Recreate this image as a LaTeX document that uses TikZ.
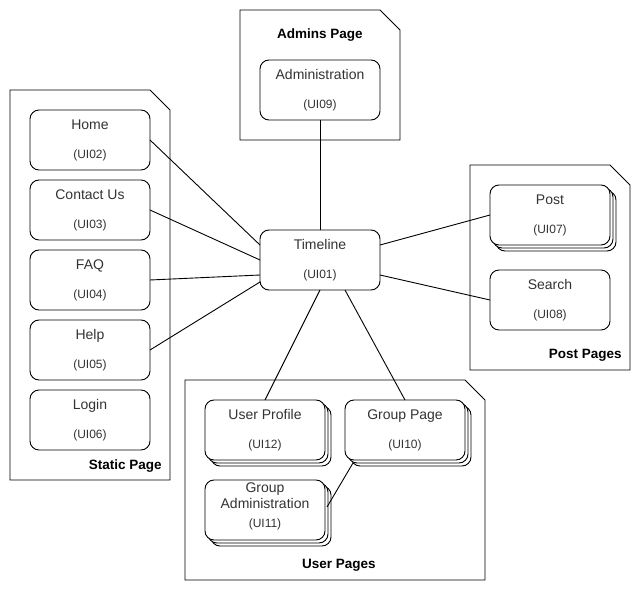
\documentclass[tikz,border=0pt]{standalone}
\usepackage{fontspec}
\setmainfont{Liberation Sans}
\usetikzlibrary{positioning,shadows}
\tikzset{>=latex}
\newcommand\uiname{\fontsize{14}{16}\selectfont}

\begin{document}
\begin{tikzpicture}[x=1pt,y=-1pt,line width=0.9pt,
	ui/.style={draw,fill=white,rounded corners=9pt,minimum width=120pt,minimum height=60pt,
		inner sep=0pt,outer sep=0pt,align=center,text=black!80,font=\fontsize{12}{14}\selectfont},
	stacked/.style={ui,double copy shadow={shadow xshift=3pt,shadow yshift=-3pt}},
	pagebox/.style={draw,line join=miter},
	ptitle/.style={font=\fontsize{13.5}{16}\selectfont\bfseries,inner sep=0pt},
	node distance=10pt]
	\useasboundingbox (0,0) rectangle (641,591);
	% page groups
	\foreach \xa/\ya/\xb/\yb in {10/90/170/480, 240/10/400/140, 470/165/630/370, 185/380/485/580}
		\draw[pagebox] (\xa,\ya) -- (\xb-20,\ya) -- (\xb,\ya+20) -- (\xb,\yb) -- (\xa,\yb) -- cycle;
	\node[ptitle,anchor=east] (statictitle) at (162,466) {Static Page};
	\node[ptitle] (admintitle) at (320,35) {Admins Page};
	\node[ptitle,anchor=east] (posttitle) at (622,355) {Post Pages};
	\node[ptitle] (usertitle) at (339,565) {User Pages};
	% static pages
	\node[ui] (home) at (90,140) {{\uiname Home}\\[15pt](UI02)};
	\node[ui,below=of home] (contact) {{\uiname Contact Us}\\[15pt](UI03)};
	\node[ui,below=of contact] (faq) {{\uiname FAQ}\\[15pt](UI04)};
	\node[ui,below=of faq] (help) {{\uiname Help}\\[15pt](UI05)};
	\node[ui,below=of help] (login) {{\uiname Login}\\[15pt](UI06)};
	% admins page
	\node[ui] (admin) at (320,90) {{\uiname Administration}\\[15pt](UI09)};
	% timeline
	\node[ui] (timeline) at (320,260) {{\uiname Timeline}\\[15pt](UI01)};
	% post pages
	\node[stacked] (post) at (550,215) {{\uiname Post}\\[15pt](UI07)};
	\node[ui,below=25pt of post] (search) {{\uiname Search}\\[15pt](UI08)};
	% user pages
	\node[stacked] (profile) at (265,430) {{\uiname User Profile}\\[15pt](UI12)};
	\node[stacked,right=20pt of profile] (group) {{\uiname Group Page}\\[15pt](UI10)};
	\node[stacked,below=20pt of profile] (groupadmin) {{\uiname Group}\\[2pt]{\uiname Administration}\\[5pt](UI11)\\[-4pt]\mbox{}};
	% links
	\draw (home.east) -- ([yshift=15pt]timeline.west);
	\draw (contact.east) -- (timeline.west);
	\draw (faq.east) -- ([yshift=-15pt]timeline.west);
	\draw (help.east) -- ([yshift=-22pt]timeline.west);
	\draw (admin.south) -- (timeline.north);
	\draw ([yshift=15pt]timeline.east) -- (post.west);
	\draw ([yshift=-15pt]timeline.east) -- (search.west);
	\draw (timeline.south) -- (profile.north);
	\draw ([xshift=25pt]timeline.south) -- (group.north);
	\draw ([xshift=2pt,yshift=3pt]groupadmin.east) -- ([xshift=8pt,yshift=-3pt]group.south west);
\end{tikzpicture}
\end{document}
